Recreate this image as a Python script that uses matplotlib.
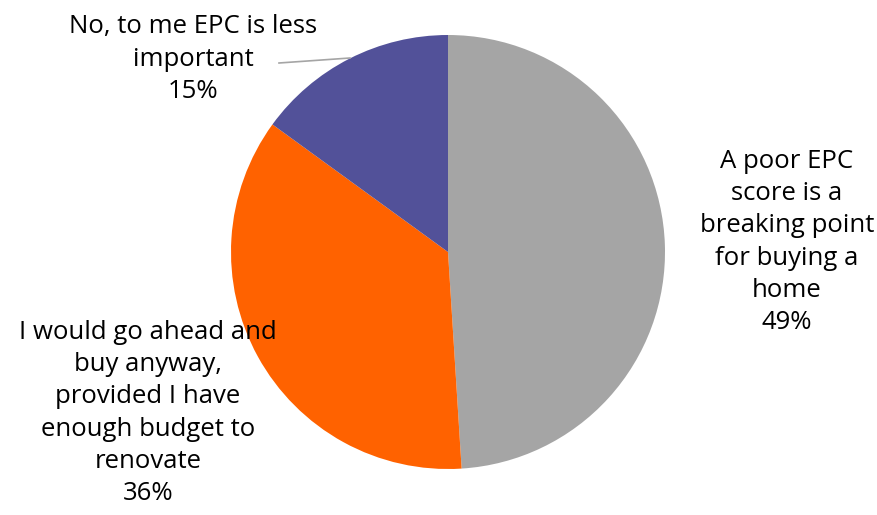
import matplotlib.pyplot as plt

# survey answers, clockwise from 12 o'clock
labels = ["A poor EPC\nscore is a\nbreaking point\nfor buying a\nhome",
          "I would go ahead and\nbuy anyway,\nprovided I have\nenough budget to\nrenovate",
          "No, to me EPC is less\nimportant"]
shares = [49, 36, 15]
colors = ["#A5A5A5", "#FF6200", "#525199"]

plt.rcParams['font.family'] = ['Open Sans', 'DejaVu Sans']

fig = plt.figure(figsize=(8.78, 5.15), dpi=100)
ax = fig.add_axes([0, 0, 1, 1])

ax.pie(shares, colors=colors, startangle=90, counterclock=False,
       center=(448, 263), radius=217, wedgeprops=dict(linewidth=0))

# pie() resets the limits, so set them afterwards
ax.set_xlim(0, 878)
ax.set_ylim(0, 515)
ax.set_aspect('equal')
ax.axis('off')

# label positions in pixels (y up)
pos = [(787, 273), (148, 102), (193, 456)]
for lab, s, (x, y) in zip(labels, shares, pos):
    ax.text(x, y, f"{lab}\n{s}%", ha='center', va='center', fontsize=18.5,
            linespacing=1.38, color='black')

# leader line for the small slice
ax.plot([279, 350], [515 - 63, 515 - 58], color='#A5A5A5', lw=1.2)

fig.savefig("out.png", dpi=100)
